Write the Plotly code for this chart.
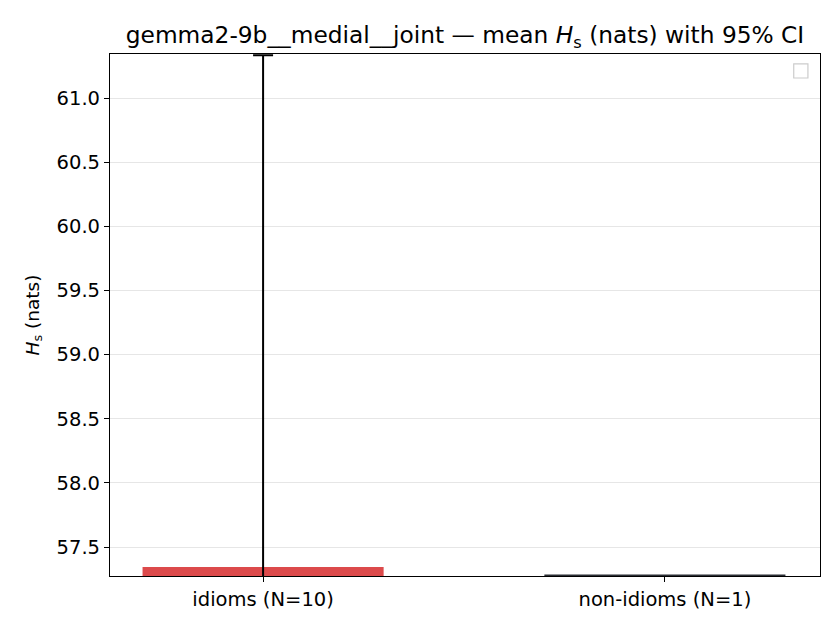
import plotly.graph_objects as go

# dados
categorias = ['idioms (N=10)', 'non-idioms (N=1)']
posicoes = [0, 1]
media_hs = [57.344, 57.285]
ic95_idioms = 3.99
cores = ['#dc4a4b', '#2a2d33']

fig = go.Figure()
# idioms com barra de erro
fig.add_trace(go.Bar(x=[posicoes[0]],
                     y=[media_hs[0]],
                     width=0.6,
                     marker=dict(color=cores[0], line=dict(width=0)),
                     error_y=dict(type='data', array=[ic95_idioms], visible=True,
                                  color='black', thickness=2, width=10),
                     showlegend=False))
# non-idioms (N=1), sem IC
fig.add_trace(go.Bar(x=[posicoes[1]],
                     y=[media_hs[1]],
                     width=0.6,
                     marker=dict(color=cores[1], line=dict(width=0)),
                     showlegend=False))

# Layout
fig.update_layout(width=840, height=630,
                  paper_bgcolor='white', plot_bgcolor='white',
                  font=dict(family='DejaVu Sans', size=19.5, color='black'),
                  margin=dict(l=102, r=28, t=46, b=62),
                  title=dict(text='gemma2-9b__medial__joint — mean <i>H</i><sub>s</sub> (nats) with 95% CI',
                             xref='paper', x=0.5, xanchor='center',
                             y=0.957, yanchor='middle',
                             font=dict(size=23.3)),
                  barmode='overlay',
                  showlegend=False)
fig.update_xaxes(range=[-0.381, 1.386],
                 tickvals=posicoes, ticktext=categorias,
                 ticks='outside', ticklen=5, tickwidth=1.2, tickcolor='black',
                 showgrid=False, zeroline=False,
                 showline=True, linecolor='black', linewidth=1.2, mirror=True)
fig.update_yaxes(range=[57.274, 61.343],
                 tickvals=[57.5, 58.0, 58.5, 59.0, 59.5, 60.0, 60.5, 61.0],
                 ticktext=['57.5', '58.0', '58.5', '59.0', '59.5', '60.0', '60.5', '61.0'],
                 ticks='outside', ticklen=5, tickwidth=1.2, tickcolor='black',
                 showgrid=True, gridcolor='#e6e6e6', gridwidth=1.2, zeroline=False,
                 showline=True, linecolor='black', linewidth=1.2, mirror=True,
                 title=dict(text='<i>H</i><sub>s</sub> (nats)', standoff=12,
                            font=dict(size=18.5)))

# caixa de legenda vazia
fig.add_shape(type='rect', xref='paper', yref='paper',
              x0=0.963, x1=0.983, y0=0.954, y1=0.981,
              line=dict(color='#cccccc', width=1.2), fillcolor='white')

fig.write_html('out.html')
